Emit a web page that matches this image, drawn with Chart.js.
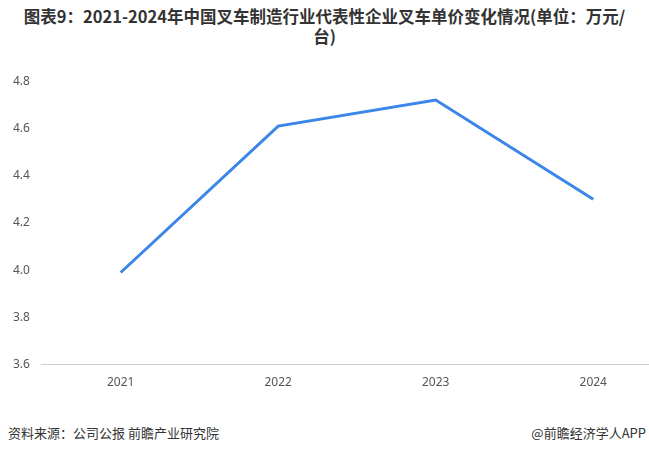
<!DOCTYPE html>
<html>
<head>
<meta charset="utf-8">
<script src="https://cdn.jsdelivr.net/npm/chart.js@4"></script>
<style>
  html, body { margin: 0; padding: 0; background: #fff; overflow: hidden; }
  body { width: 649px; height: 453px; position: relative; font-family: "Noto Sans CJK SC", "Noto Sans", sans-serif; }
  #title { position: absolute; top: 6px; left: 0; width: 649px; text-align: center; font-weight: bold; font-size: 16.5px; line-height: 20px; color: #333; letter-spacing: 0px; }
  #wrap { position: absolute; left: 0; top: 62px; width: 672px; height: 339px; }
  #source { position: absolute; left: 8px; top: 423px; font-size: 13px; color: #333; }
  #brand { position: absolute; right: 3px; top: 423px; font-size: 13px; color: #333; }
</style>
</head>
<body>
<div id="title">图表9：2021-2024年中国叉车制造行业代表性企业叉车单价变化情况(单位：万元/<br>台)</div>
<div id="wrap"><canvas id="myChart"></canvas></div>
<div id="source">资料来源：公司公报 前瞻产业研究院</div>
<div id="brand">@前瞻经济学人APP</div>
<script>
// data
const years = ["2021", "2022", "2023", "2024"];
const unitPrice = [3.99, 4.61, 4.72, 4.30];
const yTicks = [3.6, 3.8, 4.0, 4.2, 4.4, 4.6, 4.8];

const ctx = document.getElementById("myChart").getContext("2d");
new Chart(ctx, {
    type: "line",
    data: {
        labels: years,
        datasets: [
            {
                label: "叉车单价",
                data: unitPrice,
                borderColor: "#3b86e8",
                borderWidth: 3,
                pointRadius: 0,
                tension: 0,
                fill: false
            }
        ]
    },
    options: {
        responsive: true,
        maintainAspectRatio: false,
        animation: false,
        layout: { padding: { left: 1, right: 0, top: 12, bottom: 0 } },
        plugins: {
            legend: { display: false },
            tooltip: { enabled: false }
        },
        scales: {
            x: {
                offset: true,
                grid: { display: false, drawTicks: false },
                border: { color: "#d0d0d0", width: 1 },
                ticks: { color: "#555", font: { size: 12, family: "Noto Sans" }, padding: 11 }
            },
            y: {
                min: 3.6,
                max: 4.8,
                afterBuildTicks: (axis) => { axis.ticks = yTicks.map(v => ({ value: v })); },
                grid: { display: false, drawTicks: false },
                border: { display: false },
                ticks: {
                    color: "#555",
                    font: { size: 12, family: "Noto Sans" },
                    padding: 12,
                    callback: (v) => Number(v).toFixed(1)
                }
            }
        }
    }
});
</script>
</body>
</html>
